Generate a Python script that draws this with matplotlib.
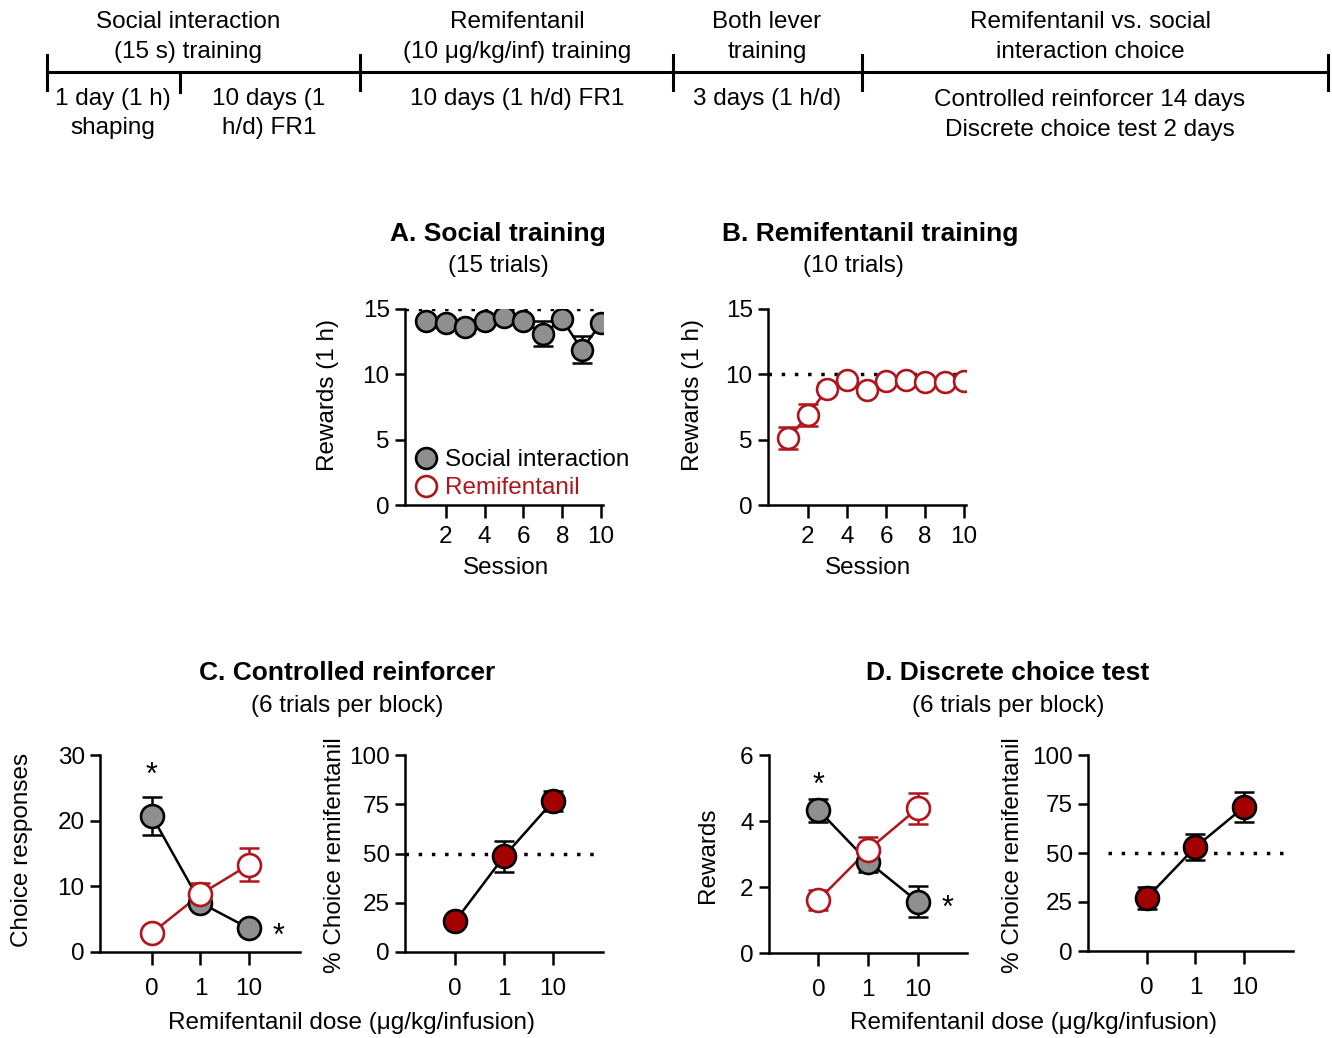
import matplotlib
matplotlib.use('Agg')
import matplotlib.pyplot as plt
from matplotlib.lines import Line2D
import numpy as np

plt.rcParams['font.family'] = ['Liberation Sans', 'DejaVu Sans']

# ---- data ----
sessions = np.arange(1, 11)
social_train = [14.1, 13.9, 13.6, 14.1, 14.4, 14.1, 13.1, 14.2, 11.9, 13.9]
social_train_err = [0.3, 0.3, 0.4, 0.3, 0.2, 0.3, 0.95, 0.3, 1.0, 0.3]
remi_train = [5.1, 6.9, 8.9, 9.6, 8.8, 9.5, 9.55, 9.4, 9.4, 9.5]
remi_train_err = [0.85, 0.85, 0.4, 0.2, 0.3, 0.2, 0.2, 0.2, 0.2, 0.2]

dose_labels = ['0', '1', '10']
cr_social = [20.7, 7.5, 3.6]
cr_social_err = [2.9, 1.0, 0.5]
cr_remi = [2.9, 8.8, 13.3]
cr_remi_err = [0.5, 1.7, 2.5]
cr_pct = [15.5, 48.5, 76.5]
cr_pct_err = [2.0, 8.0, 5.0]

dc_social = [4.33, 2.77, 1.56]
dc_social_err = [0.35, 0.33, 0.47]
dc_remi = [1.61, 3.12, 4.38]
dc_remi_err = [0.3, 0.4, 0.48]
dc_pct = [27.0, 53.0, 73.5]
dc_pct_err = [5.5, 6.5, 7.5]

GRAY = '#8f8f8f'
RED = '#b0151b'
DKRED = '#a30000'
FS = 17.5

W, H = 1332, 1038
fig = plt.figure(figsize=(W / 100, H / 100), dpi=100)


def box(l, t, r, b):
    return [l / W, 1 - b / H, (r - l) / W, (b - t) / H]


def ftext(x, y, s, **kw):
    kw.setdefault('fontsize', FS)
    kw.setdefault('ha', 'center')
    kw.setdefault('va', 'center')
    fig.text(x / W, 1 - y / H, s, **kw)


def style(ax, xpad=6):
    ax.spines['top'].set_visible(False)
    ax.spines['right'].set_visible(False)
    for s in ['left', 'bottom']:
        ax.spines[s].set_linewidth(1.8)
    ax.tick_params(width=1.8, length=7, labelsize=FS, pad=4)
    ax.tick_params(axis='x', length=9, pad=xpad)
    ax.patch.set_alpha(0)


def series(ax, x, y, err, face, edge, line, ms=15):
    ax.errorbar(x, y, yerr=err, fmt='none', ecolor=edge, elinewidth=1.8,
                capsize=7, capthick=1.8, zorder=3)
    ax.plot(x, y, '-', color=line, lw=1.8, zorder=2)
    ax.plot(x, y, 'o', ms=ms, mfc=face, mec=edge, mew=1.9, zorder=4)


def dotted(ax, y):
    ax.axhline(y, color='black', lw=2.5, ls=(0, (1, 2.8)), zorder=1)


# ---- timeline ----
tl = fig.add_axes([0, 0, 1, 1])
tl.set_xlim(0, W)
tl.set_ylim(H, 0)
tl.axis('off')
tl.plot([47, 1328], [72, 72], color='black', lw=2.2)
for x in [47, 360, 673, 862, 1328]:
    tl.plot([x, x], [55, 90], color='black', lw=2.2)
tl.plot([180, 180], [72, 92], color='black', lw=2.2)

timeline_text = [
    (188, 22, 'Social interaction'), (188, 52, '(15 s) training'),
    (517, 22, 'Remifentanil'), (517, 52, '(10 μg/kg/inf) training'),
    (767, 22, 'Both lever'), (767, 52, 'training'),
    (1090, 22, 'Remifentanil vs. social'), (1090, 52, 'interaction choice'),
    (113, 99, '1 day (1 h)'), (113, 128, 'shaping'),
    (269, 99, '10 days (1'), (269, 128, 'h/d) FR1'),
    (517, 99, '10 days (1 h/d) FR1'),
    (767, 99, '3 days (1 h/d)'),
    (1090, 100, 'Controlled reinforcer 14 days'),
    (1090, 130, 'Discrete choice test 2 days'),
]
for x, y, s in timeline_text:
    ftext(x, y, s)

# ---- panel A ----
axA = fig.add_axes(box(405, 309, 603, 505))
style(axA)
dotted(axA, 15)
series(axA, sessions, social_train, social_train_err, GRAY, 'black', 'black')
axA.set_xlim(-0.1, 10.1)
axA.set_ylim(0, 15)
axA.set_xticks([2, 4, 6, 8, 10])
axA.set_yticks([0, 5, 10, 15])
handles = [Line2D([], [], ls='none', marker='o', ms=15, mfc=GRAY, mec='black', mew=1.9),
           Line2D([], [], ls='none', marker='o', ms=15, mfc='white', mec=RED, mew=1.9)]
axA.legend(handles, ['Social interaction', 'Remifentanil'], loc='lower left',
           bbox_to_anchor=(-0.03, -0.045), frameon=False, fontsize=FS,
           handletextpad=0.3, labelspacing=0.25, handlelength=1.0,
           labelcolor=['black', RED], borderaxespad=0.2)
ftext(498, 234, 'A. Social training', fontsize=19, fontweight='bold')
ftext(498, 266, '(15 trials)')
ftext(328, 395, 'Rewards (1 h)', rotation=90)
ftext(506, 568, 'Session')

# ---- panel B ----
axB = fig.add_axes(box(768, 309, 966, 505))
style(axB)
dotted(axB, 10)
series(axB, sessions, remi_train, remi_train_err, 'white', RED, RED)
axB.set_xlim(-0.05, 10.1)
axB.set_ylim(0, 15)
axB.set_xticks([2, 4, 6, 8, 10])
axB.set_yticks([0, 5, 10, 15])
ftext(870, 234, 'B. Remifentanil training', fontsize=19, fontweight='bold')
ftext(853, 266, '(10 trials)')
ftext(693, 395, 'Rewards (1 h)', rotation=90)
ftext(868, 568, 'Session')

xpos = np.arange(len(dose_labels))

# ---- panel C ----
axC1 = fig.add_axes(box(100, 755, 300, 952))
style(axC1, xpad=10)
series(axC1, xpos, cr_social, cr_social_err, GRAY, 'black', 'black', ms=16.5)
series(axC1, xpos, cr_remi, cr_remi_err, 'white', RED, RED, ms=16.5)
axC1.set_xlim(-1.07, 3.05)
axC1.set_ylim(0, 30)
axC1.set_xticks(xpos, dose_labels)
axC1.set_yticks([0, 10, 20, 30])
axC1.text(0, 26.8, '*', fontsize=22, ha='center', va='center')
axC1.text(2.6, 2.3, '*', fontsize=22, ha='center', va='center')

axC2 = fig.add_axes(box(405, 755, 603, 952))
style(axC2, xpad=10)
dotted(axC2, 50)
series(axC2, xpos, cr_pct, cr_pct_err, DKRED, 'black', 'black', ms=16.5)
axC2.set_xlim(-1.02, 3.02)
axC2.set_ylim(0, 100)
axC2.set_xticks(xpos, dose_labels)
axC2.set_yticks([0, 25, 50, 75, 100])

ftext(347, 673, 'C. Controlled reinforcer', fontsize=19, fontweight='bold')
ftext(347, 706, '(6 trials per block)')
ftext(22, 850, 'Choice responses', rotation=90)
ftext(335, 855, '% Choice remifentanil', rotation=90)
ftext(352, 1023, 'Remifentanil dose (μg/kg/infusion)')

# ---- panel D ----
axD1 = fig.add_axes(box(769, 755, 967, 953))
style(axD1, xpad=10)
series(axD1, xpos, dc_social, dc_social_err, GRAY, 'black', 'black', ms=16.5)
series(axD1, xpos, dc_remi, dc_remi_err, 'white', RED, RED, ms=16.5)
axD1.set_xlim(-1.0, 3.0)
axD1.set_ylim(0, 6)
axD1.set_xticks(xpos, dose_labels)
axD1.set_yticks([0, 2, 4, 6])
axD1.text(0, 5.05, '*', fontsize=22, ha='center', va='center')
axD1.text(2.6, 1.35, '*', fontsize=22, ha='center', va='center')

axD2 = fig.add_axes(box(1088, 755, 1293, 951))
style(axD2, xpad=10)
axD2.plot([-0.8, 3.0], [50, 50], color='black', lw=2.5, ls=(0, (1, 2.8)), zorder=1)
series(axD2, xpos, dc_pct, dc_pct_err, DKRED, 'black', 'black', ms=16.5)
axD2.set_xlim(-1.2, 3.0)
axD2.set_ylim(0, 100)
axD2.set_xticks(xpos, dose_labels)
axD2.set_yticks([0, 25, 50, 75, 100])

ftext(1008, 673, 'D. Discrete choice test', fontsize=19, fontweight='bold')
ftext(1008, 706, '(6 trials per block)')
ftext(708, 855, 'Rewards', rotation=90)
ftext(1013, 855, '% Choice remifentanil', rotation=90)
ftext(1033, 1023, 'Remifentanil dose (μg/kg/infusion)')

fig.savefig('out.png', dpi=100)
